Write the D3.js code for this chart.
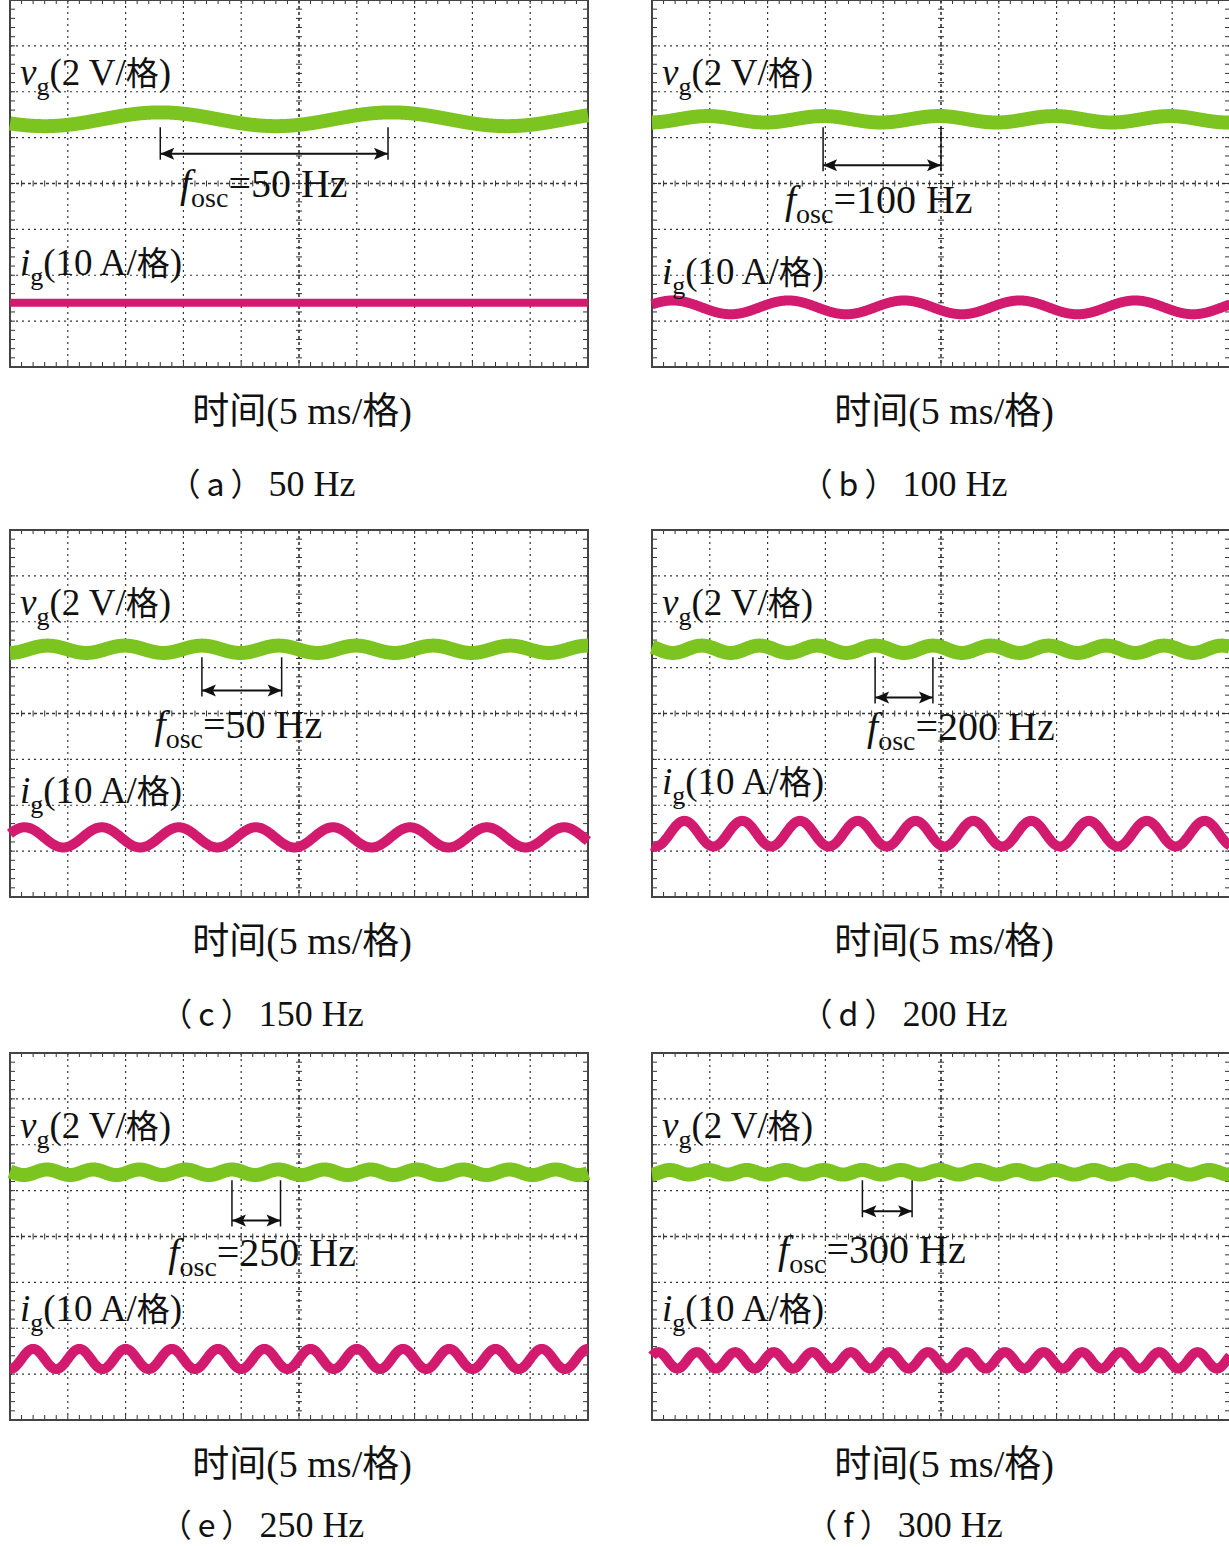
<!DOCTYPE html>
<html><head><meta charset="utf-8">
<script src="https://cdn.jsdelivr.net/npm/d3@7"></script>
<style>body{margin:0;background:#fff}</style></head>
<body><svg id="c" width="1229" height="1547"></svg>
<script>
const captions = ["（a）","（b）","（c）","（d）","（e）","（f）"];
const captionHz = ["50 Hz","100 Hz","150 Hz","200 Hz","250 Hz","300 Hz"];
const oscLabels = ["50 Hz","100 Hz","50 Hz","200 Hz","250 Hz","300 Hz"];
const vFreq = [50,100,150,200,250,300];          // Hz
const vCenter = [2.6,2.6,2.6,2.6,2.6,2.6];       // divisions from top
const vAmp = [0.15,0.07,0.08,0.08,0.06,0.05];
const iFreq = [50,100,150,200,250,300];
const iCenter = [6.6,6.7,6.7,6.62,6.67,6.7];
const iAmp = [0.0,0.15,0.22,0.28,0.22,0.18];
const arrowT = [[13.0,32.7],[14.8,25.0],[16.6,23.5],[19.3,24.3],[19.2,23.4],[18.2,22.5]]; // ms
const arrowY = [3.35,3.6,3.5,3.65,3.65,3.45];
const oscLabelX = [14.7,11.5,12.5,18.6,13.7,10.9];
const oscLabelY = [4.3,4.64,4.53,4.57,4.64,4.57];
const igLabelY = [6.0,6.2,5.95,5.75,5.85,5.85];

const svg = d3.select("#c");
const W=578, H=367;
const origins=[[10,0],[652,0],[10,530],[652,530],[10,1053],[652,1053]];
const font='"Liberation Serif","DejaVu Serif",serif';
const cjk='"Noto Sans CJK SC",sans-serif';

origins.forEach(([ox,oy],k)=>{
  const g=svg.append("g").attr("transform",`translate(${ox},${oy})`);
  const x=d3.scaleLinear().domain([0,50]).range([0,W]);
  const y=d3.scaleLinear().domain([0,8]).range([0,H]);
  for(let i=1;i<10;i++){ g.append("line").attr("x1",x(i*5)).attr("x2",x(i*5)).attr("y1",0).attr("y2",H)
     .attr("stroke","#333").attr("stroke-width",i==5?1.6:1.2).attr("stroke-dasharray",i==5?"3,3":"2,4"); }
  for(let j=1;j<8;j++){ g.append("line").attr("y1",y(j)).attr("y2",y(j)).attr("x1",0).attr("x2",W)
     .attr("stroke","#333").attr("stroke-width",j==4?1.6:1.2).attr("stroke-dasharray",j==4?"3,3":"2,4"); }
  for(let t=0;t<=50;t+=1){
    [[y(4)-3,y(4)+3],[H-5,H],[0,4]].forEach(([a,b])=>g.append("line").attr("x1",x(t)).attr("x2",x(t)).attr("y1",a).attr("y2",b).attr("stroke","#333").attr("stroke-width",1));
  }
  for(let t=0;t<=8;t+=0.2){
    [[x(25)-3,x(25)+3],[0,5],[W-5,W]].forEach(([a,b])=>g.append("line").attr("y1",y(t)).attr("y2",y(t)).attr("x1",a).attr("x2",b).attr("stroke","#333").attr("stroke-width",1));
  }
  g.append("rect").attr("width",W).attr("height",H).attr("fill","none").attr("stroke","#444").attr("stroke-width",2);
  const ts=d3.range(0,50.01,0.05);
  const line=(c,a,f,ph)=>d3.line().x(t=>x(t)).y(t=>y(c - a*Math.sin(2*Math.PI*f*t/1000+ph)))(ts);
  const vph=Math.PI/2-2*Math.PI*vFreq[k]*arrowT[k][0]/1000;
  g.append("path").attr("d",line(vCenter[k],vAmp[k],vFreq[k],vph)).attr("fill","none").attr("stroke","#7cc41f").attr("stroke-width",14);
  g.append("path").attr("d",line(iCenter[k],iAmp[k],iFreq[k],vph+Math.PI*0.6)).attr("fill","none").attr("stroke","#d21a6e").attr("stroke-width",k==0?8:10);
  const lab=(yy,sym,rest)=>{
    const t=g.append("text").attr("x",10).attr("y",yy).attr("font-family",font).attr("font-size",37).attr("fill","#111");
    t.append("tspan").attr("font-style","italic").text(sym);
    t.append("tspan").attr("font-size",26).attr("dy",10).text("g");
    t.append("tspan").attr("dy",-10).text(rest);
    t.append("tspan").attr("font-family",cjk).attr("font-size",33).text("格");
    t.append("tspan").text(")");
  };
  lab(y(1.85),"v","(2 V/");
  lab(y(igLabelY[k]),"i","(10 A/");
  const [a0,a1]=arrowT[k]; const ay=y(arrowY[k]);
  [a0,a1].forEach(t=>g.append("line").attr("x1",x(t)).attr("x2",x(t)).attr("y1",y(vCenter[k])+8).attr("y2",ay+6).attr("stroke","#111").attr("stroke-width",1.5));
  g.append("line").attr("x1",x(a0)).attr("x2",x(a1)).attr("y1",ay).attr("y2",ay).attr("stroke","#111").attr("stroke-width",2);
  const hd=14;
  g.append("path").attr("d",`M${x(a0)},${ay}l${hd},-6l-3,6l3,6z M${x(a1)},${ay}l${-hd},-6l3,6l-3,6z`).attr("fill","#111");
  const fl=g.append("text").attr("x",x(oscLabelX[k])).attr("y",y(oscLabelY[k])).attr("font-family",font).attr("font-size",40).attr("fill","#111");
  fl.append("tspan").attr("font-style","italic").text("f");
  fl.append("tspan").attr("font-size",28).attr("dy",10).text("osc");
  fl.append("tspan").attr("dy",-10).text("="+oscLabels[k]);
  const at=svg.append("text").attr("x",ox+292).attr("y",oy+424).attr("text-anchor","middle").attr("font-size",38).attr("fill","#111");
  at.append("tspan").attr("font-family",cjk).attr("font-size",37).text("时间");
  at.append("tspan").attr("font-family",font).text("(5 ms/");
  at.append("tspan").attr("font-family",cjk).attr("font-size",37).text("格");
  at.append("tspan").attr("font-family",font).text(")");
  const ct=svg.append("text").attr("x",ox+252).attr("y",oy+(k<4?496:484)).attr("text-anchor","middle").attr("font-size",36).attr("fill","#111");
  ct.append("tspan").attr("font-family",cjk).attr("font-size",32).attr("letter-spacing",6).text(captions[k]);
  ct.append("tspan").attr("font-family",font).text(captionHz[k]);
});
</script></body></html>
